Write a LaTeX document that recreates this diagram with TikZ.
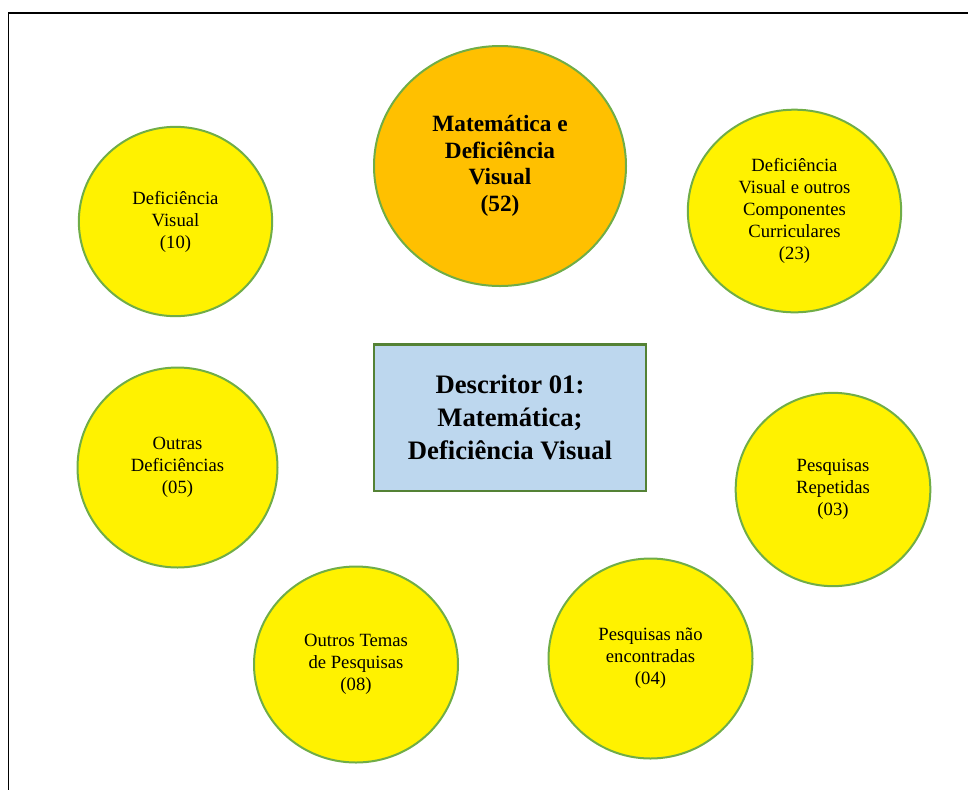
\documentclass[tikz,border=0pt]{standalone}
\usepackage{fontspec}
\setmainfont{Liberation Serif}
\usepackage{tikz}
\usetikzlibrary{shapes.geometric}
\definecolor{circgreen}{HTML}{70AD47}
\definecolor{boxgreen}{HTML}{548235}
\definecolor{boxblue}{HTML}{BDD7EE}
\definecolor{matorange}{HTML}{FFC000}

\begin{document}
\begin{tikzpicture}[x=0.75pt, y=-0.75pt,
        tema/.style={ellipse, draw=circgreen, line width=1.5pt, fill=yellow,
            align=center, inner sep=0pt, font=\fontsize{14}{16.5}\selectfont},
        principal/.style={tema, fill=matorange,
            font=\fontsize{17.5}{20}\selectfont\bfseries},
        descritor/.style={rectangle, draw=boxgreen, line width=2pt, fill=boxblue,
            align=center, inner sep=0pt, minimum width=204pt, minimum height=110pt,
            font=\fontsize{20}{25}\selectfont\bfseries}]
        \useasboundingbox (0,0) rectangle (968,790);
        \draw[line width=1.2pt] (968,13) -- (8.5,13) -- (8.5,790);
        % centro
        \node[descritor] (desc) at (510,417.5) {Descritor 01:\\Matemática;\\Deficiência Visual};
        % temas
        \node[principal, minimum width=189pt, minimum height=180pt] (mat) at (500,166)
            {Matemática e\\Deficiência\\Visual\\(52)};
        \node[tema, minimum width=145pt, minimum height=142pt] (dv) at (175.5,221.5)
            {Deficiência\\Visual\\(10)};
        \node[tema, minimum width=160pt, minimum height=152pt] (dvoc) at (794.5,211)
            {Deficiência\\Visual e outros\\Componentes\\Curriculares\\(23)};
        \node[tema, minimum width=150pt, minimum height=150pt] (od) at (177.5,467.5)
            {Outras\\Deficiências\\(05)};
        \node[tema, minimum width=146pt, minimum height=145pt] (pr) at (833,489.5)
            {Pesquisas\\Repetidas\\(03)};
        \node[tema, minimum width=153pt, minimum height=150pt] (pne) at (650.5,658.5)
            {Pesquisas não\\encontradas\\(04)};
        \node[tema, minimum width=153pt, minimum height=147pt] (otp) at (356,664.5)
            {Outros Temas\\de Pesquisas\\(08)};
\end{tikzpicture}
\end{document}
